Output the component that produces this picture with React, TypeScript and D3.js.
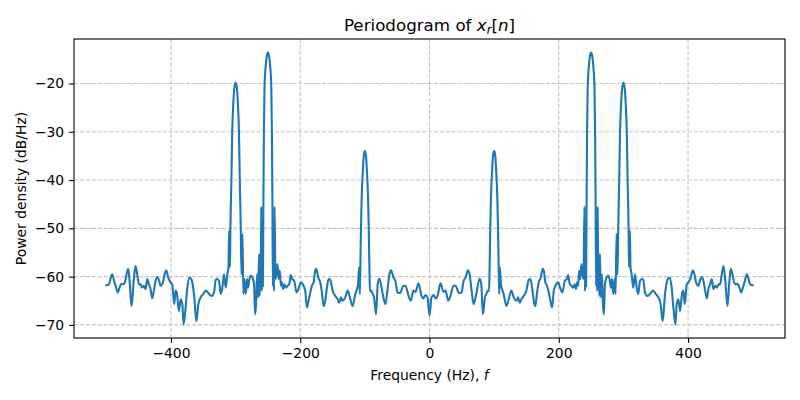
import React, { useEffect, useRef } from "react";
import * as d3 from "d3";

// positive half of the spectrum (Hz, dB/Hz); the periodogram of a real signal is symmetric
const freqHalf = [
  0, 3.1, 6.2, 9.3, 12.4, 17.0, 21.7, 24.8, 28.9, 32.0, 37.2, 40.3, 45.5, 49.6, 52.7, 55.8, 59.4, 62.0,
  65.1, 68.2, 72.4, 77.5, 80.1, 82.7, 85.8, 87.9, 90.4, 92.2, 93, 94, 95, 97, 98.5, 100, 101.5, 103,
  105, 106, 107, 107.8, 109, 110.5, 112, 114.7, 118.9, 122.5, 126.6, 130, 134.4, 137, 139.5, 142.1,
  144.7, 149.9, 153.5, 156.1, 158.7, 161.8, 163.8, 166.4, 169, 172.1, 175.2, 177.3, 179.3, 181.9,
  184.5, 187.1, 189.7, 192.3, 194.9, 199, 202.1, 205.7, 209.3, 212.4, 214.5, 217.1, 219.7, 222.2,
  224.7, 226.4, 228.4, 230, 231.5, 233.2, 235.2, 236.7, 238.3, 239.7, 240.5, 241.5, 242.3, 243,
  243.8, 244.8, 246.5, 248, 250, 252, 253.5, 255.2, 256.2, 257, 257.8, 258.5, 259.5, 260.3, 261,
  262, 262.8, 263.6, 265.2, 266.7, 268.3, 269.8, 271.4, 273.9, 276.5, 279.1, 280.7, 282.2, 284.3,
  286.3, 287.9, 289.4, 290.9, 292, 293.5, 294.8, 296.5, 298, 300, 302, 303.5, 305.2, 306.5, 308,
  308.7, 310, 311, 312.7, 315.3, 317.9, 320.5, 323, 325.6, 328.7, 330.8, 333.4, 337, 341.1, 346.3,
  349.9, 354, 357.6, 360.7, 364.4, 368, 371.1, 374.7, 377.3, 380.4, 382.4, 385, 387.6, 390.7,
  392.8, 394.9, 398, 400.5, 404.2, 407.3, 409.9, 412.4, 416, 418.6, 421.2, 423.8, 426.4, 429,
  431.5, 434.1, 436.7, 439.3, 441.9, 444.5, 447.1, 449.6, 452.2, 454.8, 457.4, 461, 463.6, 466.1,
  468.7, 471.3, 473.9, 476.5, 479.6, 482.2, 484.8, 487.3, 491, 493.6, 496.1, 500,
];
const powerHalf = [
  -68.1, -64.3, -63.8, -64.5, -64.0, -61.4, -63.2, -62.9, -65.0, -64.2, -61.9, -61.9, -63.4, -63.3, -60.9, -60.2, -58.7, -59.5,
  -62.9, -65.7, -63.6, -60.4, -61.6, -67.8, -64.3, -63.6, -62.9, -63.0, -58, -50, -44, -37.7, -34.7, -34, -34.7, -37.7,
  -44, -50, -58, -63.6, -58.1, -61.6, -62.5, -63.6, -66.1, -64.7, -62.9, -64.2, -65.0, -64.3, -65.4, -64.7,
  -64.2, -62.9, -60.7, -60.5, -62.3, -65.4, -66.1, -63.3, -61.2, -60.2, -58.4, -59.1, -61.2, -61.9,
  -63.3, -65.0, -66.4, -62.9, -61.9, -61.2, -62.3, -63.3, -60.9, -60.5, -59.7, -61.6, -61.9, -62.3,
  -61.6, -62.6, -61.2, -61.9, -58.8, -60.5, -57.4, -59.5, -60.5, -45.5, -63, -55, -62, -45,
  -30, -20.5, -16.5, -14.5, -13.6, -14.5, -16.5, -20.5, -30, -45, -62, -55, -63, -45.5, -62,
  -58, -64, -55.3, -64.3, -59.5, -65.7, -67.8, -61.6, -60.2, -59.8, -60.9, -62.3, -60.5, -63.6,
  -60.5, -63.6, -51.2, -59.5, -50, -40, -30, -24, -21, -19.8, -21, -24, -30, -40, -50,
  -58, -50.5, -58.1, -59.5, -62.3, -59.5, -62.3, -63.6, -60.9, -60.5, -60.7, -63.3, -64.0, -63.6, -62.9,
  -63.6, -64.3, -65.7, -69.2, -63.6, -60.7, -60.2, -62.3, -66.4, -69.9, -65.7, -64.7, -67.1, -63.6,
  -62.9, -65.7, -61.6, -61.2, -60.2, -58.7, -59.5, -61.2, -61.9, -60.7, -60.1, -60.9, -62.9, -64.5,
  -62.6, -61.6, -60.5, -62.6, -61.9, -62.3, -61.6, -61.6, -59.5, -57.8, -60.5, -66.1, -61.6, -58.4,
  -59.5, -61.2, -61.6, -61.5, -62.3, -63.3, -62.3, -61.2, -59.5, -60.5, -61.6, -61.8,
];

const xTicks = [-400, -200, 0, 200, 400];
const yTicks = [-70, -60, -50, -40, -30, -20];

// mirror the positive half onto negative frequencies
const frequencies = [...freqHalf.slice(1).map((f) => -f).reverse(), ...freqHalf];
const powers = [...powerHalf.slice(1).reverse(), ...powerHalf];

export default function App() {
  const ref = useRef<SVGSVGElement>(null);

  useEffect(() => {
    const svg = d3.select(ref.current);
    svg.selectAll("*").remove();

    const width = 800;
    const height = 400;
    const margin = { top: 39, right: 15, bottom: 62, left: 74 };
    const innerWidth = width - margin.left - margin.right;
    const innerHeight = height - margin.top - margin.bottom;
    const font = "DejaVu Sans";

    const data = frequencies.map((f, i) => ({ f, p: powers[i] }));

    const [fMin, fMax] = d3.extent(frequencies) as [number, number];
    const [pMin, pMax] = d3.extent(powers) as [number, number];
    const fPad = (fMax - fMin) * 0.05;
    const pPad = (pMax - pMin) * 0.05;

    const xScale = d3.scaleLinear().domain([fMin - fPad, fMax + fPad]).range([0, innerWidth]);
    const yScale = d3.scaleLinear().domain([pMin - pPad, pMax + pPad]).range([innerHeight, 0]);

    svg.append("rect").attr("width", width).attr("height", height).attr("fill", "#fff");

    const chart = svg.append("g").attr("transform", `translate(${margin.left},${margin.top})`);

    // grid
    const gridColor = "#c4c4c4";
    chart.selectAll(".vgrid").data(xTicks).join("line").attr("class", "vgrid")
      .attr("x1", (d) => xScale(d)).attr("x2", (d) => xScale(d))
      .attr("y1", 0).attr("y2", innerHeight)
      .attr("stroke", gridColor).attr("stroke-width", 1.1).attr("stroke-dasharray", "4.1,1.8");
    chart.selectAll(".hgrid").data(yTicks).join("line").attr("class", "hgrid")
      .attr("x1", 0).attr("x2", innerWidth)
      .attr("y1", (d) => yScale(d)).attr("y2", (d) => yScale(d))
      .attr("stroke", gridColor).attr("stroke-width", 1.1).attr("stroke-dasharray", "4.1,1.8");

    const line = d3.line<{ f: number; p: number }>()
      .x((d) => xScale(d.f))
      .y((d) => yScale(d.p))
      .curve(d3.curveMonotoneX);

    chart.append("path").datum(data)
      .attr("d", line)
      .attr("fill", "none")
      .attr("stroke", "#1f77b4")
      .attr("stroke-width", 2.1)
      .attr("stroke-linejoin", "round")
      .attr("stroke-linecap", "square");

    // axes
    const xAxis = d3.axisBottom(xScale).tickValues(xTicks).tickSize(4.9).tickPadding(4.9);
    const yAxis = d3.axisLeft(yScale).tickValues(yTicks).tickSize(4.9).tickPadding(4.9);

    const gx = chart.append("g").attr("transform", `translate(0,${innerHeight})`).call(xAxis);
    const gy = chart.append("g").call(yAxis);
    [gx, gy].forEach((g) => {
      g.select(".domain").remove();
      g.selectAll("line").attr("stroke", "#000").attr("stroke-width", 1.1);
      g.selectAll("text").attr("fill", "#000").style("font-family", font).style("font-size", "13.9px");
    });

    // frame
    chart.append("rect")
      .attr("width", innerWidth).attr("height", innerHeight)
      .attr("fill", "none").attr("stroke", "#000").attr("stroke-width", 1.1);

    // title
    const title = svg.append("text")
      .attr("x", margin.left + innerWidth / 2)
      .attr("y", 31)
      .attr("text-anchor", "middle")
      .style("font-family", font)
      .style("font-size", "16.7px");
    title.append("tspan").text("Periodogram of ");
    title.append("tspan").style("font-style", "italic").text("x");
    title.append("tspan").style("font-style", "italic").style("font-size", "11.7px").attr("dy", 3).text("r");
    title.append("tspan").attr("dy", -3).text("[");
    title.append("tspan").style("font-style", "italic").text("n");
    title.append("tspan").text("]");

    // x label
    const xLabel = svg.append("text")
      .attr("x", margin.left + innerWidth / 2)
      .attr("y", 380)
      .attr("text-anchor", "middle")
      .style("font-family", font)
      .style("font-size", "13.9px");
    xLabel.append("tspan").text("Frequency (Hz), ");
    xLabel.append("tspan").style("font-style", "italic").text("f");

    // y label
    svg.append("text")
      .attr("transform", `translate(26,${margin.top + innerHeight / 2}) rotate(-90)`)
      .attr("text-anchor", "middle")
      .style("font-family", font)
      .style("font-size", "13.9px")
      .text("Power density (dB/Hz)");
  }, []);

  return (
    <svg
      ref={ref}
      width={800}
      height={400}
      style={{ position: "absolute", left: 0, top: 0 }}
    />
  );
}
